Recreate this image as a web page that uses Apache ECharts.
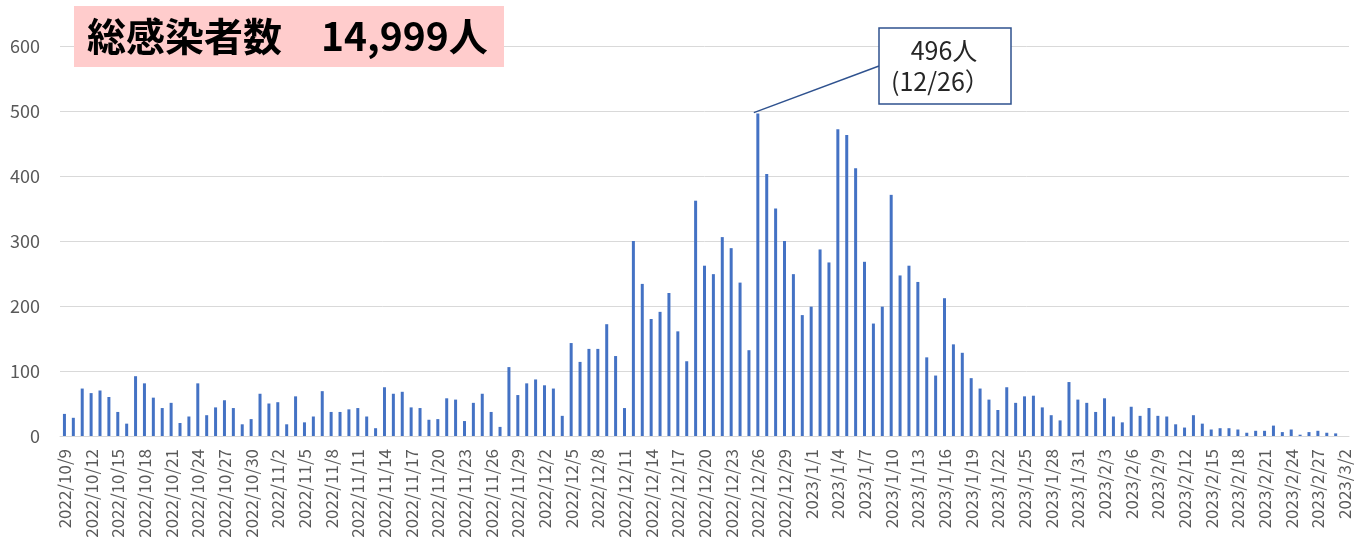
<!DOCTYPE html>
<html>
<head>
<meta charset="utf-8">
<script src="https://cdn.jsdelivr.net/npm/echarts@6/dist/echarts.min.js"></script>
<style>
    html, body { margin: 0; padding: 0; background: #fff; }
    #main { width: 1365px; height: 553px; }
</style>
</head>
<body>
<div id="main"></div>
<script>
// 日付（2022/10/9 〜 2023/3/2）
let days = [
    '2022/10/9', '2022/10/10', '2022/10/11', '2022/10/12', '2022/10/13', '2022/10/14', '2022/10/15', '2022/10/16', '2022/10/17', '2022/10/18', '2022/10/19', '2022/10/20', '2022/10/21', '2022/10/22', '2022/10/23', '2022/10/24', '2022/10/25', '2022/10/26', '2022/10/27', '2022/10/28', '2022/10/29', '2022/10/30', '2022/10/31',
    '2022/11/1', '2022/11/2', '2022/11/3', '2022/11/4', '2022/11/5', '2022/11/6', '2022/11/7', '2022/11/8', '2022/11/9', '2022/11/10', '2022/11/11', '2022/11/12', '2022/11/13', '2022/11/14', '2022/11/15', '2022/11/16', '2022/11/17', '2022/11/18', '2022/11/19', '2022/11/20', '2022/11/21', '2022/11/22', '2022/11/23', '2022/11/24', '2022/11/25', '2022/11/26', '2022/11/27', '2022/11/28', '2022/11/29', '2022/11/30',
    '2022/12/1', '2022/12/2', '2022/12/3', '2022/12/4', '2022/12/5', '2022/12/6', '2022/12/7', '2022/12/8', '2022/12/9', '2022/12/10', '2022/12/11', '2022/12/12', '2022/12/13', '2022/12/14', '2022/12/15', '2022/12/16', '2022/12/17', '2022/12/18', '2022/12/19', '2022/12/20', '2022/12/21', '2022/12/22', '2022/12/23', '2022/12/24', '2022/12/25', '2022/12/26', '2022/12/27', '2022/12/28', '2022/12/29', '2022/12/30', '2022/12/31',
    '2023/1/1', '2023/1/2', '2023/1/3', '2023/1/4', '2023/1/5', '2023/1/6', '2023/1/7', '2023/1/8', '2023/1/9', '2023/1/10', '2023/1/11', '2023/1/12', '2023/1/13', '2023/1/14', '2023/1/15', '2023/1/16', '2023/1/17', '2023/1/18', '2023/1/19', '2023/1/20', '2023/1/21', '2023/1/22', '2023/1/23', '2023/1/24', '2023/1/25', '2023/1/26', '2023/1/27', '2023/1/28', '2023/1/29', '2023/1/30', '2023/1/31',
    '2023/2/1', '2023/2/2', '2023/2/3', '2023/2/4', '2023/2/5', '2023/2/6', '2023/2/7', '2023/2/8', '2023/2/9', '2023/2/10', '2023/2/11', '2023/2/12', '2023/2/13', '2023/2/14', '2023/2/15', '2023/2/16', '2023/2/17', '2023/2/18', '2023/2/19', '2023/2/20', '2023/2/21', '2023/2/22', '2023/2/23', '2023/2/24', '2023/2/25', '2023/2/26', '2023/2/27', '2023/2/28',
    '2023/3/1', '2023/3/2'
]

// 新規感染者数（日別）
let cases = [
    34, 28, 73, 66, 70, 60, 37, 19, 92, 81, 59, 43, 51, 20, 30, 81, 32, 44, 55, 43, 18, 26, 65,
    50, 52, 18, 61, 21, 30, 69, 37, 37, 41, 43, 30, 12, 75, 65, 68, 44, 43, 25, 26, 58, 56, 23, 51, 65, 37, 14, 106, 63, 81,
    87, 78, 73, 31, 143, 114, 134, 134, 172, 123, 43, 300, 234, 180, 191, 220, 161, 115, 362, 262, 249, 306, 289, 236, 132, 496, 403, 350, 300, 249, 186,
    199, 287, 267, 472, 463, 412, 268, 173, 199, 371, 247, 262, 237, 121, 93, 212, 141, 128, 89, 73, 56, 40, 75, 51, 61, 62, 44, 32, 24, 83, 56, 51,
    37, 58, 30, 21, 45, 31, 43, 31, 30, 18, 13, 32, 19, 10, 12, 12, 10, 5, 8, 8, 16, 6, 10, 2, 6, 8, 5, 4,
    0, 0
]

let yTicks = [0, 100, 200, 300, 400, 500, 600]
let totalLabel = '総感染者数\u300014,999人'
let peakIndex = 79 - 1
let peakText1 = '496人'
let peakText2 = '(12/26）'

let myChart = echarts.init(document.getElementById('main'));

let option = {
    animation: false,
    textStyle: { fontFamily: '"Noto Sans CJK JP", "Noto Sans", sans-serif' },
    grid: { left: 60, right: 16, top: 46, bottom: 117 },
    xAxis: {
        type: 'category',
        data: days,
        axisLine: { lineStyle: { color: '#d9d9d9' } },
        axisTick: { show: false },
        axisLabel: {
            interval: 2,
            rotate: 90,
            margin: 13,
            color: '#595959',
            fontSize: 17
        }
    },
    yAxis: {
        type: 'value',
        min: yTicks[0],
        max: yTicks[yTicks.length - 1],
        interval: 100,
        axisLine: { show: false },
        axisTick: { show: false },
        axisLabel: { color: '#595959', fontSize: 18, margin: 20 },
        splitLine: { lineStyle: { color: '#d9d9d9', width: 1 } }
    },
    series: [{
        type: 'bar',
        data: cases,
        barWidth: 3,
        itemStyle: { color: '#4472c4' }
    }]
};

myChart.setOption(option);

// 注釈（ピーク位置はスケールから取得）
let peak = myChart.convertToPixel({ seriesIndex: 0 }, [peakIndex, cases[peakIndex]])
let boxX = 879, boxY = 28, boxW = 132, boxH = 76

myChart.setOption({
    graphic: [
        {
            type: 'rect',
            shape: { x: 74, y: 6, width: 430, height: 61 },
            style: { fill: '#ffcccc' }
        },
        {
            type: 'text',
            style: {
                text: totalLabel,
                x: 87, y: 36,
                fill: '#000',
                font: 'bold 39px "Noto Sans CJK JP"',
                textAlign: 'left',
                textVerticalAlign: 'middle'
            }
        },
        {
            type: 'line',
            shape: { x1: peak[0] - 4, y1: peak[1] - 1, x2: boxX, y2: boxY + 38 },
            style: { stroke: '#2f528f', lineWidth: 1.5 }
        },
        {
            type: 'rect',
            shape: { x: boxX, y: boxY, width: boxW, height: boxH },
            style: { fill: '#fff', stroke: '#2f528f', lineWidth: 1.5 }
        },
        {
            type: 'text',
            style: {
                text: peakText1,
                x: 944, y: 50,
                fill: '#262626',
                font: '25px "Noto Sans CJK JP"',
                textAlign: 'center',
                textVerticalAlign: 'middle'
            }
        },
        {
            type: 'text',
            style: {
                text: peakText2,
                x: 891, y: 81,
                fill: '#262626',
                font: '25px "Noto Sans CJK JP"',
                textAlign: 'left',
                textVerticalAlign: 'middle'
            }
        }
    ]
});
</script>
</body>
</html>
